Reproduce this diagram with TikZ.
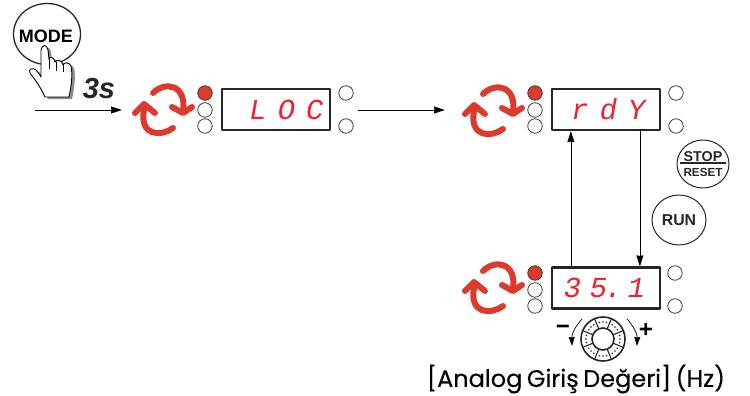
\documentclass[tikz,border=0pt]{standalone}
\usepackage{fontspec}
\usetikzlibrary{shapes.geometric,arrows.meta}
\setmainfont{Liberation Sans}
\newfontfamily\captionfont[WordSpace=0.7,FakeBold=0.15]{Poppins}
\newfontfamily\lcdfont[FakeSlant=0.18]{Liberation Mono}
\definecolor{syncred}{HTML}{DC3A2C}
\definecolor{lcdred}{HTML}{F0202E}
\begin{document}
\begin{tikzpicture}[x=1pt,y=-1pt,line join = round,>={Stealth[length=11pt,width=7pt,inset=0.5pt]},
	display/.style={draw=black!85,line width=2.2,minimum width=108,minimum height=41,inner sep=0,text=lcdred,font=\lcdfont\fontsize{29}{29}\selectfont},
	led/.style={draw=black!75,line width=0.8,fill=white,circle,minimum size=14.5,inner sep=0},
	ledon/.style={led,fill=syncred},
	flow/.style={->,line width=0.8,black},
	keybtn/.style={draw=black!85,line width=1,ellipse,inner sep=0},
	syncicon/.pic={
		\draw[syncred,line width=6,line cap=round] (-10,-17) .. controls (2,-29) and (24,-26) .. (20,2);
		\draw[syncred,line width=6,line cap=round] (9,-3) -- (20,3) -- (29,-3);
		\draw[syncred,line width=6,line cap=round] (10,18) .. controls (-2,27) and (-24,26) .. (-19,0);
		\draw[syncred,line width=6,line cap=round] (-28,3) -- (-19,-6) -- (-8,3);
	}]
	\useasboundingbox (0,0) rectangle (750,396);
	
	\def \ledleft{-71};
	\def \ledright{69};
	\def \lcdgap{\kern11pt};
	
	% mode key and hand
	\node[draw=black!85,line width=1.3,ellipse,minimum width=67,minimum height=61,inner sep=0] (modekey) at (47,34) {};
	\def \handpath{(41,77) .. controls (38,72) and (35,67) .. (31,69) .. controls (28,70) and (30,74) .. (33,77) .. controls (38,84) and (42,90) .. (45,97) -- (69,97) .. controls (71,88) and (73,75) .. (71,66) .. controls (69,62) and (64,62) .. (63,65) .. controls (62,60) and (57,59) .. (55,62) .. controls (54,57) and (50,56) .. (49,59) -- (48,50) .. controls (47,44) and (42,44) .. (41,50) -- cycle}
	\fill[black!45,shift={(3,2)}] \handpath;
	\draw[fill=white,line width=0.9] \handpath;
	\draw[line width=0.8] (49,59) -- (49,69) (56,62) -- (56,71) (63,65) -- (63,72);
	\node[font=\bfseries\fontsize{18}{18}\selectfont] (modetext) at (46,36) {MODE};
	\node[font=\bfseries\itshape\fontsize{29}{29}\selectfont,text=black!85] (holdtime) at (99,89) {3s};
	
	% displays
	\node[display] (locbox) at (276,109.5) {\kern18pt L\lcdgap O\lcdgap C};
	\node[display] (rdybox) at (606,109.5) {\kern2pt r\lcdgap d\lcdgap Y};
	\node[display] (valbox) at (606,288) {3\kern8.6pt 5\kern-2.4pt .\kern5.6pt 1\kern6pt};
	
	\foreach \name/\cy in {loc/276,rdy/606}
	{
		\node[ledon] (\name ledA) at (\cy+\ledleft,93) {};
		\node[led] (\name ledB) at (\cy+\ledleft,110) {};
		\node[led] (\name ledC) at (\cy+\ledleft,126) {};
		\node[led] (\name ledD) at (\cy+\ledright+1,93) {};
		\node[led] (\name ledE) at (\cy+\ledright+1,126) {};
	}
	\node[ledon] (valledA) at (535,273) {};
	\node[led] (valledB) at (535,290) {};
	\node[led] (valledC) at (535,306) {};
	\node[led] (valledD) at (675,273) {};
	\node[led] (valledE) at (675,306) {};
	
	\pic at (163,110) {syncicon};
	\pic at (493,111) {syncicon};
	\pic at (493,288) {syncicon};
	
	% connectors
	\coordinate (startA) at (35,110);
	\coordinate (startB) at (122,110);
	\coordinate (midA) at (358,110);
	\coordinate (midB) at (445,110);
	\draw[flow] (startA) -- (startB);
	\draw[flow] (midA) -- (midB);
	\draw[flow] ([xshift=20]valbox.north west) -- ([xshift=20]rdybox.south west);
	\draw[flow] ([xshift=89]rdybox.south west) -- ([xshift=89]valbox.north west);
	
	% keys
	\node[keybtn,minimum width=52,minimum height=48] (stopkey) at (703,164) {};
	\node[font=\bfseries\fontsize{14.3}{14.3}\selectfont,text=black!85] (stoptext) at (703,157) {STOP};
	\node[font=\bfseries\fontsize{11.7}{11.7}\selectfont,text=black!85] (resettext) at (703,172) {RESET};
	\draw[line width=1.2,black!85] ([yshift=1]stopkey.center -| stoptext.west) -- ([yshift=1]stopkey.center -| stoptext.east);
	\node[keybtn,minimum width=54,minimum height=50,font=\bfseries\fontsize{15.8}{15.8}\selectfont,text=black!85] (runkey) at (679,220) {RUN};
	
	% dial
	\node[draw=black!85,line width=1.6,circle,minimum size=44,inner sep=0] (dial) at (603,339) {};
	\node[draw=black!85,line width=1.6,circle,minimum size=22,inner sep=0] (dialhub) at (603,339) {};
	\foreach \a in {22.5,67.5,...,337.5}
	{
		\draw[black!85,line width=1.1] (dial.center) ++(\a:11) -- ++(\a:11);
	}
	\foreach \a in {0,45,...,315}
	{
		\foreach \b in {-12,0,12}
		{
			\fill[black!85] (dial.center) ++(\a+\b:17) circle (0.9);
		}
	}
	\coordinate (minusA) at (582,319);
	\coordinate (minusB) at (572,346);
	\coordinate (plusA) at (627,319);
	\coordinate (plusB) at (637,346);
	\draw[flow,line width=0.7,>={Stealth[length=9pt,width=6pt,inset=0.5pt]}] (minusA) to[bend right=22] (minusB);
	\draw[flow,line width=0.7,>={Stealth[length=9pt,width=6pt,inset=0.5pt]}] (plusA) to[bend left=22] (plusB);
	\node[font=\bfseries\fontsize{24}{24}\selectfont,inner sep=0] (minussign) at (563,330) {\textminus};
	\node[font=\bfseries\fontsize{24}{24}\selectfont,inner sep=0] (plussign) at (646,330) {+};
	
	\node[font=\captionfont\fontsize{24}{24}\selectfont,inner sep=0] (caption) at (576,379) {[Analog Giriş Değeri] (Hz)};
\end{tikzpicture}
\end{document}
